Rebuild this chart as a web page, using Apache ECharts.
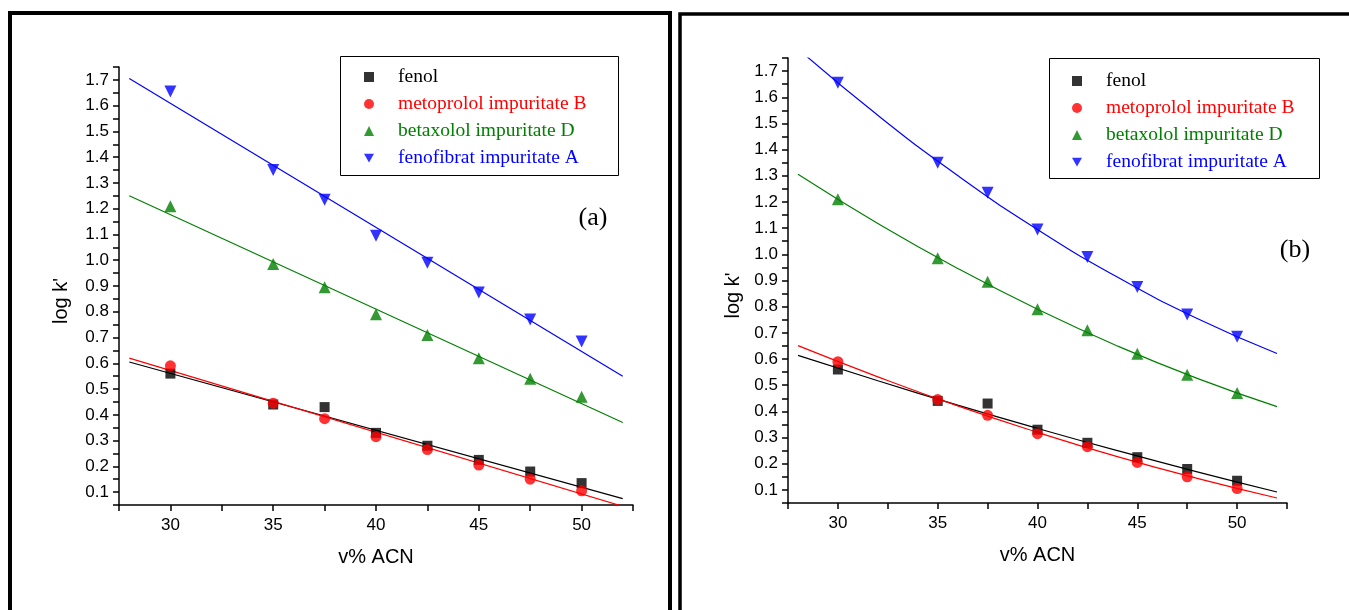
<!DOCTYPE html>
<html>
<head>
<meta charset="utf-8">
<script src="https://cdn.jsdelivr.net/npm/echarts@6/dist/echarts.min.js"></script>
<style>
html,body{margin:0;padding:0;background:#fff;}
#chart{width:1349px;height:610px;}
</style>
</head>
<body>
<div id="chart"></div>
<script>
// ---- data ----
const xVals = [30, 35, 37.5, 40, 42.5, 45, 47.5, 50];
const seriesNames = ['fenol', 'metoprolol impuritate B', 'betaxolol impuritate D', 'fenofibrat impuritate A'];
const fenol      = [0.56, 0.44, 0.43, 0.33, 0.28, 0.225, 0.18, 0.135];
const metoprolol = [0.59, 0.445, 0.385, 0.315, 0.265, 0.205, 0.15, 0.105];
const betaxolol  = [1.21, 0.985, 0.895, 0.79, 0.71, 0.62, 0.54, 0.47];
const fenofibrat = [1.655, 1.35, 1.235, 1.095, 0.99, 0.875, 0.77, 0.685];

// panel (a): straight fit lines, end points
const fitXLinear = [28, 52];
const fitA_fenol      = [0.605, 0.075];
const fitA_metoprolol = [0.62, 0.045];
const fitA_betaxolol  = [1.25, 0.37];
const fitA_fenofibrat = [1.705, 0.55];

// panel (b): curved fit lines, read at these x
const fitXCurve = [28, 32, 36, 40, 44, 48, 52];
const fitB_fenol      = [0.614, 0.517, 0.424, 0.335, 0.25, 0.169, 0.092];
const fitB_metoprolol = [0.651, 0.532, 0.421, 0.32, 0.227, 0.144, 0.069];
const fitB_betaxolol  = [1.306, 1.118, 0.946, 0.79, 0.65, 0.526, 0.418];
const fitB_fenofibrat = [1.785, 1.531, 1.301, 1.095, 0.913, 0.755, 0.621];

const xTitle = 'v% ACN';
const yTitle = "log k'";
const panelLabels = ['(a)', '(b)'];

// ---- styling ----
const colors = ['#000000', '#ff0000', '#008000', '#0000ff'];
const symbols = ['rect', 'circle', 'triangle', 'path://M0,0L2,0L1,1.75Z'];
const symbolSizes = [10, 11, 12, 12];
const sans = '"Liberation Sans", Arial, sans-serif';
const serif = '"Liberation Serif", "Times New Roman", serif';

const pointData = [fenol, metoprolol, betaxolol, fenofibrat];
const fitsA = [fitA_fenol, fitA_metoprolol, fitA_betaxolol, fitA_fenofibrat];
const fitsB = [fitB_fenol, fitB_metoprolol, fitB_betaxolol, fitB_fenofibrat];

function xAxisCfg(gi) {
  return {
    type: 'value', gridIndex: gi, min: 27.5, max: 52.5, interval: 2.5,
    axisLine: {show: true, onZero: false, lineStyle: {color: '#000', width: 1.5}},
    axisTick: {show: true, inside: false, length: 6, lineStyle: {color: '#000', width: 1.5}},
    axisLabel: {
      color: '#000', fontSize: 17, fontFamily: sans, margin: 12,
      formatter: v => (Math.round(v * 10) % 50 === 0 ? String(Math.round(v)) : '')
    },
    splitLine: {show: false},
    name: xTitle, nameLocation: 'middle', nameGap: 42,
    nameTextStyle: {color: '#000', fontSize: 20, fontFamily: sans}
  };
}
function yAxisCfg(gi, gap) {
  return {
    type: 'value', gridIndex: gi, min: 0.05, max: 1.75, interval: 0.05,
    axisLine: {show: true, onZero: false, lineStyle: {color: '#000', width: 1.5}},
    axisTick: {show: true, inside: false, length: 6, lineStyle: {color: '#000', width: 1.5}},
    axisLabel: {
      color: '#000', fontSize: 17, fontFamily: sans, margin: 10,
      formatter: v => { const r = Math.round(v * 100); return r % 10 === 0 ? (r / 100).toFixed(1) : ''; }
    },
    splitLine: {show: false},
    name: yTitle, nameLocation: 'middle', nameGap: gap, nameRotate: 90,
    nameTextStyle: {color: '#000', fontSize: 20, fontFamily: sans, padding: [0, 30, 0, 0]}
  };
}
function legendCfg(left, top) {
  return {
    orient: 'vertical', left: left, top: top, padding: 0,
    itemWidth: 10, itemHeight: 10, itemGap: 7, selectedMode: false,
    textStyle: {fontFamily: serif, fontSize: 19.5, lineHeight: 20, padding: [0, 0, 0, 19]},
    data: seriesNames.map((n, i) => ({name: n, textStyle: {color: colors[i]}}))
  };
}

const series = [];
[0, 1].forEach(p => {
  const fits = p === 0 ? fitsA : fitsB;
  const fx = p === 0 ? fitXLinear : fitXCurve;
  fits.forEach((f, i) => {
    series.push({
      type: 'line', name: 'fit-' + p + '-' + i, xAxisIndex: p, yAxisIndex: p,
      data: fx.map((x, k) => [x, f[k]]), symbol: 'none', showSymbol: false,
      smooth: p === 1 ? 0.5 : false, clip: true, silent: true, z: 2,
      lineStyle: {color: colors[i], width: 1.2}
    });
  });
  pointData.forEach((d, i) => {
    series.push({
      type: 'scatter', name: seriesNames[i], xAxisIndex: p, yAxisIndex: p,
      data: xVals.map((x, k) => [x, d[k]]), symbol: symbols[i], symbolSize: symbolSizes[i],
      itemStyle: {color: colors[i]}, z: 3, silent: true
    });
  });
});

const chart = echarts.init(document.getElementById('chart'), null, {renderer: 'canvas'});
chart.setOption({
  animation: false,
  backgroundColor: '#fff',
  grid: [
    {left: 119, top: 67, width: 514, height: 438},
    {left: 788, top: 58, width: 499, height: 445}
  ],
  xAxis: [xAxisCfg(0), xAxisCfg(1)],
  yAxis: [yAxisCfg(0, 48), yAxisCfg(1, 45)],
  legend: [legendCfg(364, 67), legendCfg(1072, 71)],
  graphic: [
    {type: 'rect', silent: true, shape: {x: 10, y: 13, width: 660, height: 640}, style: {fill: 'none', stroke: '#000', lineWidth: 4}},
    {type: 'rect', silent: true, shape: {x: 680, y: 14, width: 720, height: 640}, style: {fill: 'none', stroke: '#000', lineWidth: 3.5}},
    {type: 'rect', silent: true, shape: {x: 340.5, y: 56.5, width: 278, height: 119}, style: {fill: 'none', stroke: '#000', lineWidth: 1}},
    {type: 'rect', silent: true, shape: {x: 1049.5, y: 58.5, width: 270, height: 120}, style: {fill: 'none', stroke: '#000', lineWidth: 1}},
    {type: 'text', silent: true, x: 593, y: 218, style: {text: panelLabels[0], font: '26px ' + serif, fill: '#000', textAlign: 'center', textVerticalAlign: 'middle'}},
    {type: 'text', silent: true, x: 1295, y: 250, style: {text: panelLabels[1], font: '26px ' + serif, fill: '#000', textAlign: 'center', textVerticalAlign: 'middle'}}
  ],
  series: series
});
</script>
</body>
</html>
